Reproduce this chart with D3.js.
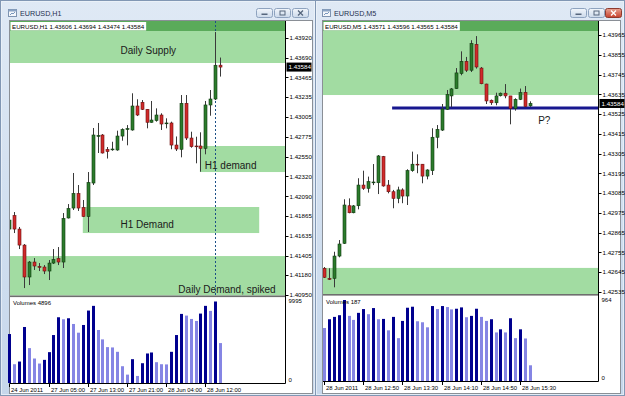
<!DOCTYPE html>
<html><head><meta charset="utf-8">
<script src="https://cdn.jsdelivr.net/npm/d3@7"></script>
<style>body{margin:0;background:#c2d3e7;overflow:hidden} svg{display:block}</style>
</head><body>
<svg id="c" width="625" height="396"></svg>
<script>
// ---------------- DATA ----------------
const h1Open  = [1.41712,1.41868,1.41712,1.41527,1.41158,1.41331,1.41279,1.41273,1.41227,1.41319,1.41371,1.41331,1.41840,1.41955,1.42123,1.41961,1.41857,1.42244,1.42787,1.42799,1.42631,1.42631,1.42626,1.42787,1.42868,1.42857,1.43134,1.43177,1.43096,1.42946,1.42966,1.43030,1.42932,1.42938,1.42683,1.42634,1.43165,1.42764,1.42672,1.42672,1.42645,1.43146,1.43215,1.43606];
const h1High  = [1.41840,1.41909,1.41736,1.41539,1.41343,1.41377,1.41319,1.41296,1.41354,1.41481,1.41504,1.41897,1.42001,1.42360,1.42221,1.42048,1.42371,1.42880,1.42938,1.42810,1.42660,1.42721,1.42849,1.42876,1.42914,1.43281,1.43212,1.43203,1.43099,1.43192,1.43107,1.43050,1.42992,1.42953,1.42782,1.43261,1.43261,1.42837,1.42779,1.42830,1.43192,1.43319,1.43989,1.43694];
const h1Low   = [1.41597,1.41666,1.41481,1.41030,1.41065,1.41239,1.41227,1.41192,1.41123,1.41308,1.41296,1.41262,1.41834,1.41932,1.41921,1.41851,1.41678,1.42221,1.42591,1.42585,1.42527,1.42617,1.42617,1.42733,1.42680,1.42849,1.43018,1.43088,1.42876,1.42941,1.42953,1.42857,1.42876,1.42634,1.42614,1.42541,1.42741,1.42652,1.42472,1.42375,1.42576,1.43022,1.43203,1.43474];
const h1Close = [1.41816,1.41712,1.41527,1.41158,1.41331,1.41285,1.41273,1.41227,1.41319,1.41360,1.41331,1.41834,1.41949,1.42123,1.41955,1.41857,1.42250,1.42799,1.42793,1.42591,1.42608,1.42637,1.42787,1.42862,1.42872,1.43134,1.43030,1.43096,1.42946,1.42972,1.43030,1.42926,1.42938,1.42683,1.42637,1.43165,1.42764,1.42664,1.42668,1.42645,1.43146,1.43215,1.43605,1.43584];
const h1Volume = [6005,2303,2632,6869,4278,3003,2386,2838,3784,5882,8062,7815,7938,7239,6170,7116,8884,9460,6499,5347,4401,4360,3825,2057,1028,2920,864,2427,3620,3743,2550,2303,2280,3825,5882,8473,8268,7856,7609,8514,9460,8843,9995,4896];
const h1PrevVolume = 5000;
const h1PriceTicks = [1.43920,1.43690,1.43465,1.43235,1.43005,1.42775,1.42550,1.42320,1.42090,1.41865,1.41635,1.41405,1.41180,1.40950];
const h1TimeIdx = [0,8,16,24,32,40];
const h1TimeLabels = ["24 Jun 2011","27 Jun 05:00","27 Jun 13:00","27 Jun 21:00","28 Jun 04:00","28 Jun 12:00"];
const h1Header = "EURUSD,H1  1.43606 1.43694 1.43474 1.43584";
const h1Zones = [
  {from:-3, to:70, lo:1.43631, hi:1.4430},
  {from:38.9, to:70, lo:1.42371, hi:1.42672},
  {from:15, to:51, lo:1.41666, hi:1.41967},
  {from:-3, to:70, lo:1.4080, hi:1.41400}
];
const h1Texts = [
  {text:"Daily Supply", i:22.7, p:1.43735},
  {text:"H1 demand", i:39.9, p:1.42406},
  {text:"H1 Demand", i:22.7, p:1.41720},
  {text:"Daily Demand, spiked", i:34.5, p:1.40969}
];
const h1VLine = 42;

const m5Open  = [1.42667,1.42610,1.42611,1.42735,1.42806,1.43015,1.42976,1.43015,1.43130,1.43112,1.43147,1.43143,1.43288,1.43130,1.43093,1.43056,1.43103,1.43069,1.43210,1.43246,1.43246,1.43180,1.43210,1.43396,1.43436,1.43552,1.43626,1.43667,1.43751,1.43818,1.43769,1.43913,1.43781,1.43692,1.43602,1.43588,1.43627,1.43641,1.43626,1.43557,1.43607,1.43646,1.43571];
const m5High  = [1.42674,1.42667,1.42759,1.42824,1.43051,1.43056,1.43019,1.43168,1.43210,1.43177,1.43247,1.43297,1.43292,1.43158,1.43103,1.43121,1.43112,1.43218,1.43316,1.43301,1.43247,1.43218,1.43446,1.43464,1.43581,1.43659,1.43670,1.43781,1.43874,1.43843,1.43936,1.43959,1.43787,1.43694,1.43606,1.43644,1.43645,1.43692,1.43626,1.43613,1.43667,1.43681,1.43596];
const m5Low   = [1.42613,1.42602,1.42561,1.42728,1.42802,1.42973,1.42973,1.42995,1.43103,1.43088,1.43130,1.43080,1.43121,1.43084,1.43001,1.43029,1.43029,1.43019,1.43204,1.43196,1.43140,1.43162,1.43186,1.43335,1.43431,1.43548,1.43563,1.43665,1.43741,1.43759,1.43759,1.43778,1.43691,1.43581,1.43576,1.43574,1.43623,1.43613,1.43468,1.43544,1.43603,1.43566,1.43565];
const m5Close = [1.42617,1.42606,1.42735,1.42802,1.43019,1.42976,1.43014,1.43130,1.43112,1.43149,1.43147,1.43292,1.43125,1.43093,1.43056,1.43103,1.43069,1.43210,1.43246,1.43244,1.43180,1.43214,1.43396,1.43440,1.43553,1.43634,1.43665,1.43754,1.43818,1.43769,1.43917,1.43787,1.43694,1.43598,1.43588,1.43626,1.43641,1.43626,1.43557,1.43607,1.43644,1.43567,1.43584];
const m5Volume = [631,735,763,783,964,775,727,811,856,795,868,735,739,603,763,510,715,872,884,711,699,639,892,856,892,880,852,860,876,759,775,860,763,715,735,578,615,578,747,510,615,506,187];
const m5PrevVolume = 700;
const m5PriceTicks = [1.43965,1.43855,1.43745,1.43635,1.43525,1.43415,1.43305,1.43195,1.43085,1.42975,1.42865,1.42755,1.42645,1.42535];
const m5TimeIdx = [0,8,16,24,32,40];
const m5TimeLabels = ["28 Jun 2011","28 Jun 12:50","28 Jun 13:30","28 Jun 14:10","28 Jun 14:50","28 Jun 15:30"];
const m5Header = "EURUSD,M5  1.43571 1.43596 1.43565 1.43584";
const m5Zones = [
  {from:-3, to:70, lo:1.43631, hi:1.4430},
  {from:-3, to:70, lo:1.42371, hi:1.42669}
];
const m5HLine = {from:13.9, to:70, p:1.43559};
const m5Texts = [{text:"P?", i:43.7, p:1.43470}];

// ---------------- DRAW ----------------
const svg = d3.select('#c');
const defs = svg.append('defs');
const tg = defs.append('linearGradient').attr('id','title').attr('x1',0).attr('y1',0).attr('x2',0).attr('y2',1);
tg.append('stop').attr('offset','0%').attr('stop-color','#dfe9f5');
tg.append('stop').attr('offset','100%').attr('stop-color','#c6d7eb');
const bg = defs.append('linearGradient').attr('id','btn').attr('x1',0).attr('y1',0).attr('x2',0).attr('y2',1);
bg.append('stop').attr('offset','0%').attr('stop-color','#f2f6fb');
bg.append('stop').attr('offset','100%').attr('stop-color','#cbd9ea');
const rg = defs.append('linearGradient').attr('id','btnred').attr('x1',0).attr('y1',0).attr('x2',0).attr('y2',1);
rg.append('stop').attr('offset','0%').attr('stop-color','#e8a493');
rg.append('stop').attr('offset','100%').attr('stop-color','#c7402c');

svg.append('rect').attr('width',625).attr('height',396).attr('fill','#c2d3e7');
const FONT = "'Liberation Sans', Arial, sans-serif";

function drawWindow(w) {
  const g = svg.append('g');
  g.append('rect').attr('x', w.x0+0.5).attr('y',0.5).attr('width', w.x1-w.x0-1).attr('height',395)
    .attr('fill','url(#title)').attr('stroke','#8197b4');
  g.append('rect').attr('x', w.x0+1.5).attr('y',1.5).attr('width', w.x1-w.x0-3).attr('height',393)
    .attr('fill','none').attr('stroke','#eef3f9').attr('stroke-opacity',0.7);
  const ix = w.x0 + w.iconDx;
  g.append('rect').attr('x',ix+0.5).attr('y',9.5).attr('width',8).attr('height',7).attr('fill','#f4f7fb').attr('stroke','#7d93b0');
  g.append('rect').attr('x',ix+0.5).attr('y',9.5).attr('width',8).attr('height',2).attr('fill','#8aa3c4');
  g.append('path').attr('d',`M${ix+2},15 L${ix+4},13 L${ix+5},14 L${ix+7},12`).attr('fill','none').attr('stroke','#5b7fae').attr('stroke-width',0.8);
  g.append('text').attr('x', ix+12).attr('y',15.5).attr('font-family',FONT).attr('font-size',7.2)
    .attr('fill','#1e3150').text(w.title);
  w.btns.forEach((bx,k)=>{
    g.append('rect').attr('x',bx+0.5).attr('y',8.5).attr('width',16).attr('height',9).attr('rx',2)
      .attr('fill', (k===2 && w.red) ? 'url(#btnred)' : 'url(#btn)').attr('stroke', (k===2 && w.red)?'#8d3a2e':'#8ea3bf');
    const cx = bx+8.5, cy = 13;
    const col = (k===2 && w.red) ? '#fff' : '#56667d';
    if (k===0) g.append('rect').attr('x',cx-3).attr('y',cy+0.5).attr('width',6).attr('height',1.5).attr('fill',col);
    if (k===1) g.append('rect').attr('x',cx-2.5).attr('y',cy-2).attr('width',5).attr('height',4).attr('fill','none').attr('stroke',col).attr('stroke-width',1);
    if (k===2) g.append('path').attr('d',`M${cx-2.5},${cy-2.5}L${cx+2.5},${cy+2.5}M${cx+2.5},${cy-2.5}L${cx-2.5},${cy+2.5}`).attr('stroke',col).attr('stroke-width',1.3);
  });
  g.append('rect').attr('x', w.cx0+0.5).attr('y',20.5).attr('width', w.cx1-w.cx0).attr('height',373)
    .attr('fill','#fff').attr('stroke','#8a8f96');
}

drawWindow({x0:0, x1:316, title:'EURUSD,H1', iconDx:8, btns:[256,274,292], red:false, cx0:9, cx1:312});
drawWindow({x0:315, x1:625, title:'EURUSD,M5', iconDx:7, btns:[570,588,605], red:true, cx0:322, cx1:620});

function drawChart(c, id) {
  const n = c.open.length;
  const x = d3.scaleLinear().domain([0, n-1]).range([c.xFirst, c.xLast]);
  const y = d3.scaleLinear().domain(c.pDomain).range(c.pRange);
  const yv = d3.scaleLinear().domain([0, d3.max(c.volume)]).range([c.volBase, c.volTopBar]);
  const cx = i => Math.round(x(i)) + 0.5;

  defs.append('clipPath').attr('id','clip'+id).append('rect')
    .attr('x', c.plotL).attr('y', c.mainTop).attr('width', c.axisX - c.plotL).attr('height', c.mainBot - c.mainTop);
  const main = svg.append('g').attr('clip-path', `url(#clip${id})`);

  main.selectAll('rect.zone').data(c.zones).join('rect').attr('class','zone')
    .attr('x', d => x(d.from)).attr('width', d => x(d.to) - x(d.from))
    .attr('y', d => y(d.hi)).attr('height', d => y(d.lo) - y(d.hi))
    .attr('fill', '#a2dca2');
  main.append('rect').attr('x', c.plotL).attr('y', c.mainTop).attr('width', c.axisX - c.plotL).attr('height', 10)
    .attr('fill', '#5aab5a');

  main.selectAll('text.note').data(c.texts).join('text').attr('class','note')
    .attr('x', d => x(d.i)).attr('y', d => y(d.p))
    .attr('font-family', FONT).attr('font-size', 10).attr('fill','#1a1a1a').text(d => d.text);

  if (c.vline != null) {
    main.append('line').attr('x1', cx(c.vline)).attr('x2', cx(c.vline)).attr('y1', c.mainTop).attr('y2', c.mainBot)
      .attr('stroke', '#1b4f86').attr('stroke-width', 1).attr('stroke-dasharray', '2,2');
  }
  if (c.hline) {
    main.append('line').attr('x1', x(c.hline.from)).attr('x2', x(c.hline.to))
      .attr('y1', y(c.hline.p)).attr('y2', y(c.hline.p))
      .attr('stroke', '#17178f').attr('stroke-width', 3);
  }

  const bars = d3.range(n).map(i => ({i, o:c.open[i], h:c.high[i], l:c.low[i], cl:c.close[i]}));
  main.selectAll('line.wick').data(bars).join('line').attr('class','wick')
    .attr('x1', d => cx(d.i)).attr('x2', d => cx(d.i))
    .attr('y1', d => y(d.h)).attr('y2', d => y(d.l))
    .attr('stroke', '#3a3a3a').attr('stroke-width', 1);
  main.selectAll('rect.body').data(bars).join('rect').attr('class','body')
    .attr('x', d => cx(d.i) - 1.5).attr('width', 3)
    .attr('y', d => y(Math.max(d.o, d.cl)))
    .attr('height', d => Math.max(0.8, Math.abs(y(d.o) - y(d.cl))))
    .attr('fill', d => d.cl >= d.o ? '#2b7b2b' : '#d02a2a')
    .attr('stroke', d => d.cl >= d.o ? '#0e3a0e' : '#6b1010').attr('stroke-width', 0.6);

  const ht = svg.append('text').attr('x', c.plotL + 2).attr('y', c.mainTop + 7.5)
    .attr('font-family', FONT).attr('font-size', 6.2).attr('fill', '#000').text(c.header);
  const bb = ht.node().getBBox();
  svg.insert('rect', () => ht.node()).attr('x', c.plotL + 0.5).attr('y', c.mainTop + 1)
    .attr('width', bb.width + 3).attr('height', 8.5).attr('fill', '#fff');

  svg.append('rect').attr('x', c.plotL).attr('y', c.mainBot).attr('width', c.axisX - c.plotL).attr('height', 1.6).attr('fill', '#6e6e6e');

  const vols = c.volume.map((v, i) => ({i, v, up: v >= (i ? c.volume[i-1] : c.prevVolume)}));
  svg.append('g').selectAll('rect').data(vols).join('rect')
    .attr('x', d => cx(d.i) - 1.5).attr('width', 3)
    .attr('y', d => yv(d.v)).attr('height', d => yv(0) - yv(d.v))
    .attr('fill', d => d.up ? '#00008e' : '#8585e4');
  svg.append('text').attr('x', c.plotL + 3).attr('y', c.volTop + 8).attr('font-family', FONT).attr('font-size', 6)
    .attr('fill', '#000').text('Volumes ' + c.volume[n-1]);

  svg.append('line').attr('x1', c.axisX).attr('x2', c.axisX).attr('y1', c.mainTop).attr('y2', c.volBottom)
    .attr('stroke', '#000').attr('stroke-width', 1);
  svg.append('line').attr('x1', c.plotL).attr('x2', c.axisX).attr('y1', c.volBottom).attr('y2', c.volBottom)
    .attr('stroke', '#000').attr('stroke-width', 1);

  const pt = svg.append('g');
  pt.selectAll('line').data(c.priceTicks).join('line')
    .attr('x1', c.axisX).attr('x2', c.axisX + 3).attr('y1', d => Math.round(y(d)) + 0.5).attr('y2', d => Math.round(y(d)) + 0.5)
    .attr('stroke', '#000');
  pt.selectAll('text').data(c.priceTicks).join('text')
    .attr('x', c.axisX + 4).attr('y', d => y(d) + 2.2)
    .attr('font-family', FONT).attr('font-size', 6.2).attr('fill', '#000').text(d => d.toFixed(5));
  const last = c.close[n-1];
  svg.append('rect').attr('x', c.axisX + 1).attr('y', y(last) - 4.5).attr('width', 25).attr('height', 9).attr('fill', '#000');
  svg.append('text').attr('x', c.axisX + 3).attr('y', y(last) + 2.2).attr('font-family', FONT).attr('font-size', 6.2)
    .attr('fill', '#fff').text(last.toFixed(5));

  svg.append('text').attr('x', c.axisX + 3).attr('y', c.volTop + 6).attr('font-family', FONT).attr('font-size', 6)
    .attr('fill', '#000').text(d3.max(c.volume));
  svg.append('text').attr('x', c.axisX + 3).attr('y', c.volBottom - 2).attr('font-family', FONT).attr('font-size', 6)
    .attr('fill', '#000').text('0');

  const tt = svg.append('g');
  tt.selectAll('line').data(c.timeIdx).join('line')
    .attr('x1', d => cx(d)).attr('x2', d => cx(d)).attr('y1', c.volBottom).attr('y2', c.volBottom + 3.5)
    .attr('stroke', '#000');
  tt.selectAll('text').data(c.timeIdx).join('text')
    .attr('x', d => cx(d) + 1.5).attr('y', c.volBottom + 8.5)
    .attr('font-family', FONT).attr('font-size', 5.9).attr('fill', '#000').text((d, k) => c.timeLabels[k]);
}

drawChart({
  open:h1Open, high:h1High, low:h1Low, close:h1Close, volume:h1Volume, prevVolume:h1PrevVolume,
  priceTicks:h1PriceTicks, timeIdx:h1TimeIdx, timeLabels:h1TimeLabels, header:h1Header,
  zones:h1Zones, texts:h1Texts, vline:h1VLine, hline:null,
  xFirst:9.3, xLast:220, pDomain:[1.40950, 1.43920], pRange:[295, 38],
  plotL:10, axisX:285.5, mainTop:21, mainBot:295.5, volTop:297, volBottom:383.5,
  volBase:383, volTopBar:301.5
}, 'L');

drawChart({
  open:m5Open, high:m5High, low:m5Low, close:m5Close, volume:m5Volume, prevVolume:m5PrevVolume,
  priceTicks:m5PriceTicks, timeIdx:m5TimeIdx, timeLabels:m5TimeLabels, header:m5Header,
  zones:m5Zones, texts:m5Texts, vline:null, hline:m5HLine,
  xFirst:324, xLast:529.8, pDomain:[1.42535, 1.43965], pRange:[292, 35],
  plotL:323, axisX:598.5, mainTop:21, mainBot:294, volTop:295.6, volBottom:381.5,
  volBase:381, volTopBar:300
}, 'R');
</script>
</body></html>
